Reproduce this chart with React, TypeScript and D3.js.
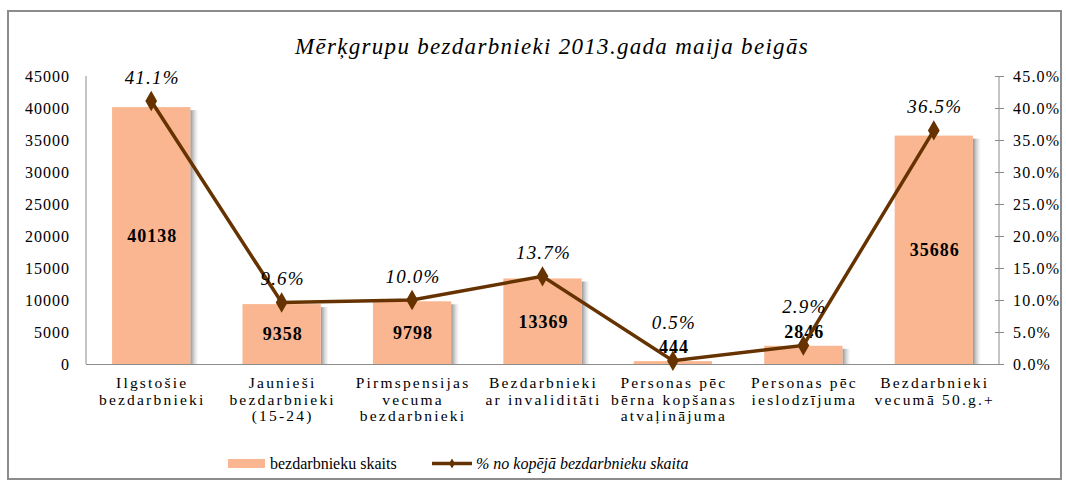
import React from 'react'
import * as d3 from 'd3'

const categories = [
  ['Ilgstošie', 'bezdarbnieki'],
  ['Jaunieši', 'bezdarbnieki', '(15-24)'],
  ['Pirmspensijas', 'vecuma', 'bezdarbnieki'],
  ['Bezdarbnieki', 'ar invaliditāti'],
  ['Personas pēc', 'bērna kopšanas', 'atvaļinājuma'],
  ['Personas pēc', 'ieslodzījuma'],
  ['Bezdarbnieki', 'vecumā 50.g.+'],
]
const counts = [40138, 9358, 9798, 13369, 444, 2846, 35686]
const shares = [41.1, 9.6, 10.0, 13.7, 0.5, 2.9, 36.5]
const leftTicks = d3.range(0, 45001, 5000)
const rightTicks = d3.range(0, 45.1, 5)

const W = 1066
const H = 488
const serif = 'Liberation Serif'
const barColor = '#F9B690'
const lineColor = '#663300'

const App = () => {
  const left = 86
  const right = 999
  const top = 76
  const bottom = 364

  const x = d3.scaleBand<number>()
    .domain(d3.range(categories.length))
    .range([left, right])
    .paddingInner(0.4)
    .paddingOuter(0.2)
  const y = d3.scaleLinear().domain([0, 45000]).range([bottom, top])
  const y2 = d3.scaleLinear().domain([0, 45]).range([bottom, top])
  const cx = (i: number) => (x(i) as number) + x.bandwidth() / 2

  const line = d3.line<number>()
    .x((d, i) => cx(i))
    .y(d => y2(d))

  const diamond = d3.symbol().type(d3.symbolDiamond).size(120)()

  // bar label positions: inside centre, or just above a short bar
  const barLabelY = counts.map(v => {
    const h = bottom - y(v)
    return h < 30 ? y(v) - 14 : y(v) + h / 2
  })
  const pctLabelY = shares.map((v, i) => {
    const h = bottom - y(counts[i])
    const py = y2(v) - 24
    return h < 30 ? Math.min(py, barLabelY[i] - 25) : py
  })

  return (
    <svg width={W} height={H} style={{ position: 'absolute', left: 0, top: 0 }}>
      <defs>
        <linearGradient id="shadow" x1="0" x2="1" y1="0" y2="0">
          <stop offset="0" stopColor="#777" stopOpacity="0.8" />
          <stop offset="1" stopColor="#bbb" stopOpacity="0" />
        </linearGradient>
      </defs>
      <rect x={0} y={0} width={W} height={H} fill="#fff" />
      <rect x={8} y={11} width={1053} height={468} fill="#fff" stroke="#8c8c8c" strokeWidth={2} />
      <text x={552} y={54} textAnchor="middle" fontFamily={serif} fontStyle="italic" fontSize={23} letterSpacing={1.3}>
        Mērķgrupu bezdarbnieki 2013.gada maija beigās
      </text>

      {/* bars */}
      {counts.map((v, i) => (
        <g key={i}>
          <rect x={(x(i) as number) + x.bandwidth()} y={y(v) + 3} width={8}
            height={bottom - y(v) - 3} fill="url(#shadow)" />
          <rect x={x(i)} y={y(v)} width={x.bandwidth()} height={bottom - y(v)} fill={barColor} />
        </g>
      ))}

      {/* axes */}
      <line x1={left} x2={left} y1={top} y2={bottom} stroke="#8c8c8c" />
      <line x1={right} x2={right} y1={top} y2={bottom} stroke="#8c8c8c" />
      <line x1={left} x2={right} y1={bottom + 0.5} y2={bottom + 0.5} stroke="#8c8c8c" />
      {leftTicks.map(t => (
        <text key={t} x={70} y={y(t)} dy="0.35em" textAnchor="end" fontFamily={serif} fontSize={16} letterSpacing={1}>
          {t}
        </text>
      ))}
      {rightTicks.map(t => (
        <g key={t}>
          <line x1={right - 4} x2={right + 5} y1={Math.round(y2(t)) + 0.5} y2={Math.round(y2(t)) + 0.5} stroke="#8c8c8c" />
          <text x={1013} y={y2(t)} dy="0.35em" fontFamily={serif} fontSize={16} letterSpacing={1.2}>
            {t.toFixed(1)}%
          </text>
        </g>
      ))}

      {/* bar labels */}
      {counts.map((v, i) => (
        <text key={i} x={cx(i) + 1} y={barLabelY[i]} dy="0.35em" textAnchor="middle"
          fontFamily={serif} fontWeight="bold" fontSize={18} letterSpacing={1}>
          {v}
        </text>
      ))}

      {/* line */}
      <path d={line(shares) || ''} fill="none" stroke={lineColor} strokeWidth={3.5} />
      {shares.map((v, i) => (
        <path key={i} d={diamond || ''} transform={`translate(${cx(i)},${y2(v)})`} fill={lineColor} />
      ))}
      {shares.map((v, i) => (
        <text key={i} x={cx(i) + 1} y={pctLabelY[i]} dy="0.35em" textAnchor="middle"
          fontFamily={serif} fontStyle="italic" fontSize={19} letterSpacing={1.2}>
          {v.toFixed(1)}%
        </text>
      ))}

      {/* category labels */}
      {categories.map((lines, i) => (
        <text key={i} textAnchor="middle" fontFamily={serif} fontSize={15.5} letterSpacing={2.2}>
          {lines.map((s, j) => (
            <tspan key={j} x={cx(i) + 1} y={388 + j * 16.5}>{s}</tspan>
          ))}
        </text>
      ))}

      {/* legend */}
      <rect x={228} y={459} width={37} height={9} fill={barColor} />
      <text x={270} y={469} fontFamily={serif} fontSize={16}>bezdarbnieku skaits</text>
      <line x1={432} x2={472} y1={463.5} y2={463.5} stroke={lineColor} strokeWidth={3.5} />
      <path d={d3.symbol().type(d3.symbolDiamond).size(30)() || ''} transform="translate(452,463.5)" fill={lineColor} />
      <text x={476} y={469} fontFamily={serif} fontStyle="italic" fontSize={16}>% no kopējā bezdarbnieku skaita</text>
    </svg>
  )
}

export default App
